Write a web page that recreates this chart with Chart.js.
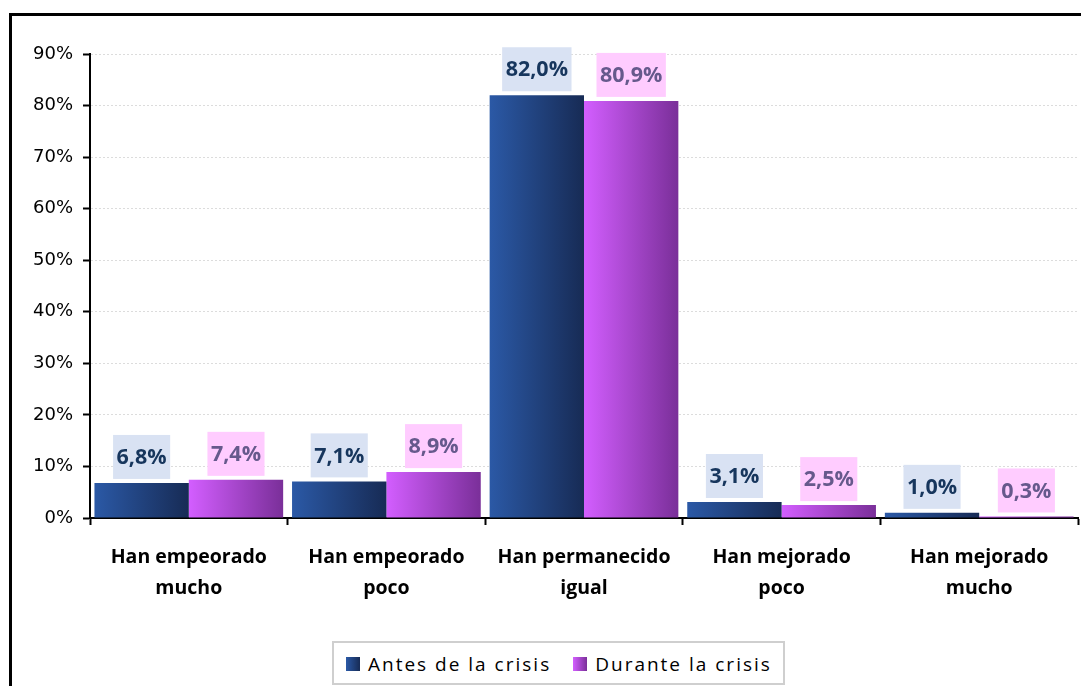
<!DOCTYPE html>
<html>
<head>
<meta charset="utf-8">
<script src="https://cdn.jsdelivr.net/npm/chart.js@4"></script>
<style>
  html, body { margin: 0; padding: 0; background: #fff; overflow: hidden; }
  #wrap { position: relative; width: 1081px; height: 686px; }
  #frame { position: absolute; left: 9px; top: 13px; width: 1100px; height: 700px; border: 3px solid #000; box-sizing: border-box; }
  #chart { position: absolute; left: 0; top: 0; }
  #legend {
    position: absolute; left: 332px; top: 641px; width: 453px; height: 44px;
    box-sizing: border-box; border: 2px solid #cfcfcf; background: #fff;
    display: flex; align-items: center; padding-left: 12px; padding-top: 1px;
    font-family: "Open Sans", sans-serif; font-size: 19px; letter-spacing: 2px; color: #000;
    white-space: nowrap;
  }
  #legend .sw { width: 14px; height: 14px; margin-right: 8px; display: inline-block; flex: none; }
  #legend .item { display: flex; align-items: center; margin-right: 22px; flex: none; }
</style>
</head>
<body>
<div id="wrap">
  <div id="frame"></div>
  <canvas id="chart" width="1081" height="686"></canvas>
  <div id="legend"></div>
</div>
<script>
// categories, series and ticks
const categories = [
  ['Han empeorado', 'mucho'],
  ['Han empeorado', 'poco'],
  ['Han permanecido', 'igual'],
  ['Han mejorado', 'poco'],
  ['Han mejorado', 'mucho']
];
const seriesNames = ['Antes de la crisis', 'Durante la crisis'];
const antes = [6.8, 7.1, 82.0, 3.1, 1.0];
const durante = [7.4, 8.9, 80.9, 2.5, 0.3];
const yTicks = [0, 10, 20, 30, 40, 50, 60, 70, 80, 90];

// colours
const barStops = [['#2b59a6', '#172b55'], ['#d35eff', '#7a2f99']];
const labelBg = ['#d9e2f3', '#ffccff'];
const labelColor = ['#17365d', '#66598c'];
const CAT_PCT = 0.955;

function barGradient(ctx, di) {
  const chart = ctx.chart;
  const xs = chart.scales.x;
  if (!chart.chartArea || !xs || ctx.dataIndex === undefined) return barStops[di][0];
  const center = xs.getPixelForValue(ctx.dataIndex);
  const w = xs.width / categories.length * CAT_PCT / 2;
  const left = di === 0 ? center - w : center;
  const g = chart.ctx.createLinearGradient(left, 0, left + w, 0);
  g.addColorStop(0, barStops[di][0]);
  g.addColorStop(1, barStops[di][1]);
  return g;
}

// value boxes above the bars
const barLabels = {
  id: 'barLabels',
  afterDatasetsDraw(chart) {
    const c = chart.ctx;
    c.save();
    c.font = 'bold 21.5px "Open Sans"';
    c.textAlign = 'center';
    c.textBaseline = 'middle';
    chart.data.datasets.forEach((ds, di) => {
      chart.getDatasetMeta(di).data.forEach((bar, i) => {
        const txt = ds.data[i].toFixed(1).replace('.', ',') + '%';
        const w = c.measureText(txt).width + 7;
        const h = 44;
        const bottom = bar.y - 4;
        c.fillStyle = labelBg[di];
        c.fillRect(bar.x - w / 2, bottom - h, w, h);
        c.fillStyle = labelColor[di];
        c.fillText(txt, bar.x, bottom - h / 2 + 1);
      });
    });
    c.restore();
  }
};

const ctx = document.getElementById('chart').getContext('2d');
new Chart(ctx, {
  type: 'bar',
  data: {
    labels: categories,
    datasets: [
      { label: seriesNames[0], data: antes, backgroundColor: c => barGradient(c, 0) },
      { label: seriesNames[1], data: durante, backgroundColor: c => barGradient(c, 1) }
    ]
  },
  options: {
    responsive: false,
    animation: false,
    layout: { padding: { top: 54, right: 3, left: 0, bottom: 0 } },
    datasets: { bar: { categoryPercentage: CAT_PCT, barPercentage: 1, borderWidth: 0 } },
    plugins: { legend: { display: false }, tooltip: { enabled: false } },
    scales: {
      x: {
        offset: true,
        grid: { offset: true, drawOnChartArea: false, drawTicks: true, tickLength: 7, tickColor: '#000', tickWidth: 2 },
        border: { color: '#000', width: 2 },
        ticks: {
          autoSkip: false, maxRotation: 0, color: '#000', padding: 17,
          font: { family: '"Open Sans"', size: 19.5, weight: 'bold', lineHeight: 1.6 }
        },
        afterFit: s => { s.height = 168; }
      },
      y: {
        min: 0, max: 90,
        afterBuildTicks: s => { s.ticks = yTicks.map(v => ({ value: v })); },
        grid: { color: '#dcdcdc', lineWidth: 1, tickLength: 7, tickColor: '#000', tickWidth: 2 },
        border: { color: '#000', width: 2, dash: [2, 2] },
        ticks: {
          color: '#000', padding: 10,
          font: { family: '"DejaVu Sans"', size: 18 },
          callback: v => v + '%'
        },
        afterFit: s => { s.width = 90; }
      }
    }
  },
  plugins: [barLabels]
});

// html legend
const legend = document.getElementById('legend');
seriesNames.forEach((name, i) => {
  const item = document.createElement('span');
  item.className = 'item';
  const sw = document.createElement('span');
  sw.className = 'sw';
  sw.style.background = `linear-gradient(to right, ${barStops[i][0]}, ${barStops[i][1]})`;
  const txt = document.createElement('span');
  txt.textContent = name;
  item.appendChild(sw);
  item.appendChild(txt);
  legend.appendChild(item);
});
</script>
</body>
</html>
